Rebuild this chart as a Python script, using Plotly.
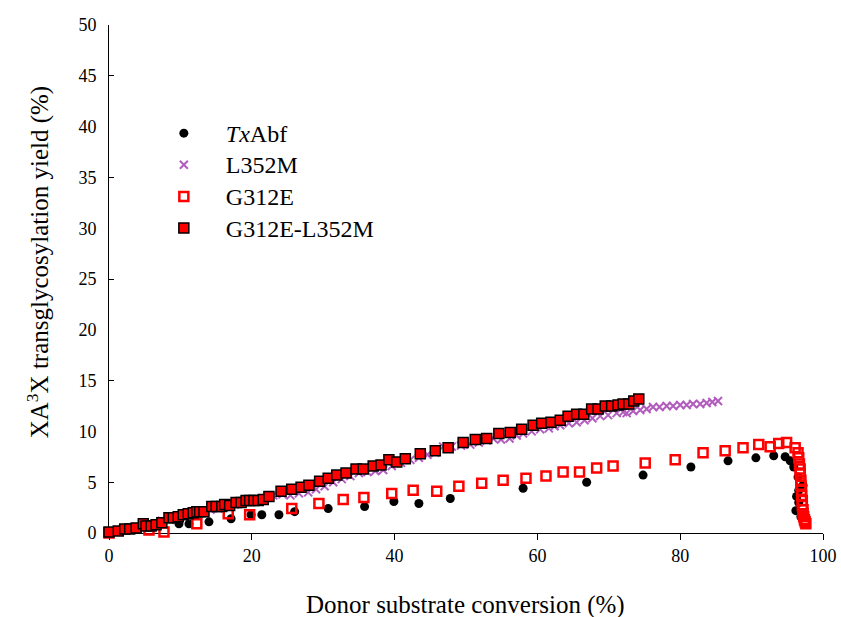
import plotly.graph_objects as go

# ---------------- data ----------------
tx_x = [0, 9.8, 11.2, 14.0, 17.1, 19.9, 21.4, 23.8, 26.0, 30.7, 35.8, 39.9, 43.4, 47.8,
        58.0, 66.9, 74.8, 81.5, 86.7, 90.6, 93.1, 94.7, 95.4, 95.9, 96.5, 97.2, 96.6,
        96.3, 96.6, 96.2, 96.9]
tx_y = [0, 0.9, 0.9, 1.1, 1.4, 1.8, 1.8, 1.8, 2.1, 2.4, 2.6, 3.1, 2.9, 3.4,
        4.4, 5.0, 5.7, 6.5, 7.1, 7.4, 7.6, 7.5, 7.1, 6.5, 5.5, 4.7, 4.2,
        3.6, 3.0, 2.2, 1.6]

l352m_x = [7.4, 8.5, 9.6, 10.8, 11.9, 13.0, 14.2, 15.3, 16.4, 17.6, 18.8, 19.9, 21.0,
           22.2, 23.0, 24.3, 25.4, 26.6, 27.9, 29.0, 30.2, 31.4, 32.6, 33.8, 35.0,
           36.2, 37.3, 38.4, 39.6, 40.9, 42.2, 43.4, 44.6, 45.7, 46.8, 48.0, 49.3,
           50.6, 51.8, 52.9, 53.8, 54.9, 56.1, 57.1, 58.0, 59.2, 60.4, 61.6, 62.4,
           63.2, 64.4, 65.5, 66.6, 67.7, 68.8, 69.9, 71.1, 72.0, 72.5, 73.4, 74.4,
           75.3, 76.2, 77.1, 78.1, 79.0, 80.0, 80.9, 81.8, 82.8, 83.7, 84.5, 85.3]
l352m_y = [1.2, 1.3, 1.5, 1.7, 1.8, 2.0, 2.3, 2.4, 2.6, 2.8, 3.0, 3.1, 3.3,
           3.5, 3.7, 3.8, 3.7, 3.9, 4.0, 4.3, 4.6, 5.0, 5.3, 5.6, 5.9,
           6.0, 6.1, 6.2, 6.6, 6.9, 7.2, 7.4, 7.7, 7.9, 8.5, 8.5, 8.6,
           8.7, 8.9, 9.1, 9.3, 9.2, 9.3, 9.6, 9.8, 10.0, 10.2, 10.3, 10.5,
           10.6, 10.8, 10.9, 11.1, 11.3, 11.5, 11.6, 11.8, 11.9, 11.8, 12.0, 12.1,
           12.2, 12.4, 12.4, 12.5, 12.5, 12.6, 12.6, 12.7, 12.7, 12.8, 12.9, 13.0]

g312e_x = [0, 5.6, 7.7, 12.3, 16.7, 19.7, 25.6, 29.4, 32.8, 35.7, 39.6, 42.6, 45.9, 49.0,
           52.2, 55.2, 58.4, 61.2, 63.6, 65.9, 68.3, 70.6, 75.1, 79.3, 83.2, 86.3,
           88.8, 91.0, 92.6, 93.8, 94.9, 96.1, 96.5, 96.6, 96.7, 96.8, 96.8, 96.9,
           96.9, 97.0, 97.0, 97.1, 97.1, 97.2, 97.2, 97.3, 97.4, 97.5, 97.6]
g312e_y = [0, 0.3, 0.1, 0.9, 1.9, 1.8, 2.4, 2.9, 3.3, 3.5, 3.9, 4.2, 4.1, 4.6,
           4.9, 5.2, 5.4, 5.6, 6.0, 6.0, 6.4, 6.6, 6.9, 7.2, 7.9, 8.1,
           8.4, 8.7, 8.5, 8.8, 8.9, 8.4, 7.9, 7.4, 6.8, 6.3, 5.8, 5.2,
           4.7, 4.2, 3.7, 3.2, 2.7, 2.3, 1.9, 1.6, 1.3, 1.1, 0.9]

dm_x = [0, 1.3, 2.2, 2.9, 3.8, 4.8, 5.2, 5.9, 6.6, 7.4, 8.4, 9.0, 9.7, 10.4, 11.1,
        11.8, 12.3, 12.7, 13.3, 14.4, 15.0, 15.8, 16.2, 16.9, 17.8, 18.5, 19.2,
        19.7, 20.3, 20.9, 21.6, 22.4, 24.1, 25.6, 26.9, 28.0, 29.5, 30.7, 31.9,
        33.2, 34.6, 35.6, 37.0, 38.1, 39.2, 40.3, 41.5, 43.6, 45.7, 47.5, 49.6,
        51.3, 52.9, 54.6, 56.2, 57.8, 59.4, 60.6, 61.9, 63.2, 64.3, 65.5, 66.5,
        67.6, 68.5, 69.5, 70.4, 71.3, 72.0, 72.8, 73.5, 74.2]
dm_y = [0.1, 0.2, 0.4, 0.4, 0.5, 0.9, 0.7, 0.7, 0.8, 1.0, 1.5, 1.5, 1.6, 1.8, 1.9,
        2.0, 2.1, 2.1, 2.1, 2.6, 2.6, 2.6, 2.8, 2.7, 3.0, 3.0, 3.2,
        3.2, 3.2, 3.2, 3.3, 3.6, 4.1, 4.3, 4.5, 4.7, 5.1, 5.4, 5.7,
        5.9, 6.3, 6.3, 6.6, 6.7, 7.2, 7.0, 7.3, 7.8, 8.1, 8.4, 8.9,
        9.2, 9.3, 9.8, 9.9, 10.2, 10.6, 10.8, 10.9, 11.1, 11.5, 11.7, 11.7,
        12.2, 12.2, 12.5, 12.5, 12.6, 12.7, 12.7, 13.0, 13.2]

series_names = ["<i>Tx</i>Abf", "L352M", "G312E", "G312E-L352M"]
x_ticks = [0, 20, 40, 60, 80, 100]
y_labels = [0, 5, 10, 15, 20, 25, 30, 35, 40, 45, 50]
y_tick_marks = [5, 15, 25, 35, 45]
x_title = "Donor substrate conversion (%)"
y_title = "XA<sup>3</sup>X transglycosylation yield (%)"

FONT = "Liberation Serif, Times New Roman, serif"


def leg(name):
    return '<span style="font-size:24px">' + name + "</span>"


fig = go.Figure()
fig.add_trace(go.Scatter(x=tx_x, y=tx_y, mode="markers", name=leg(series_names[0]),
                         cliponaxis=False,
                         marker=dict(symbol="circle", size=9, color="black")))
fig.add_trace(go.Scatter(x=l352m_x, y=l352m_y, mode="markers", name=leg(series_names[1]),
                         cliponaxis=False,
                         marker=dict(symbol="x-thin", size=8, color="#B25CBE",
                                     line=dict(width=2, color="#B25CBE"))))
fig.add_trace(go.Scatter(x=g312e_x, y=g312e_y, mode="markers", name=leg(series_names[2]),
                         cliponaxis=False,
                         marker=dict(symbol="square-open", size=9, color="#FF0000",
                                     line=dict(width=2.5, color="#FF0000"))))
# top-most series lives on the overlay axis, which also carries the inside tick marks
fig.add_trace(go.Scatter(x=dm_x, y=dm_y, yaxis="y2", mode="markers",
                         name=leg(series_names[3]), cliponaxis=False,
                         marker=dict(symbol="square", size=10, color="#FF0000",
                                     line=dict(width=1.5, color="black"))))

fig.update_layout(
    width=841, height=617,
    margin=dict(l=109, r=18, t=25, b=84),
    paper_bgcolor="white", plot_bgcolor="white",
    font=dict(family=FONT, color="black", size=18),
    showlegend=True,
    legend=dict(x=0.046, y=0.828, xanchor="left", yanchor="top",
                font=dict(family=FONT, size=22, color="black"),
                itemwidth=74, bgcolor="rgba(0,0,0,0)", tracegroupgap=0),
    xaxis=dict(range=[0, 100], tickvals=x_ticks, ticks="outside", ticklen=6,
               tickwidth=1, tickcolor="black", showline=True, linecolor="black",
               linewidth=1, showgrid=False, zeroline=False, layer="below traces",
               automargin=False, tickfont=dict(family=FONT, size=18)),
    yaxis=dict(range=[0, 50], tickvals=y_labels, ticks="", showline=True,
               linecolor="black", linewidth=1, showgrid=False, zeroline=False,
               layer="below traces", automargin=False, ticklabelstandoff=8,
               tickfont=dict(family=FONT, size=18)),
    yaxis2=dict(range=[0, 50], overlaying="y", side="left", tickvals=y_tick_marks,
                ticks="inside", ticklen=5, tickwidth=1, tickcolor="black",
                showticklabels=False, showline=False, showgrid=False,
                zeroline=False, automargin=False),
    annotations=[
        dict(text=x_title, xref="paper", yref="paper", x=0.4986, y=-0.1417,
             xanchor="center", yanchor="middle", showarrow=False,
             font=dict(family=FONT, size=25, color="black")),
        dict(text=y_title, xref="paper", yref="paper", x=-0.0994, y=0.533,
             xanchor="center", yanchor="middle", showarrow=False, textangle=-90,
             font=dict(family=FONT, size=25, color="black")),
    ],
)

fig.write_html("out.html", config={"displayModeBar": False},
               post_script="document.body.style.margin='0';document.body.style.padding='0';")
